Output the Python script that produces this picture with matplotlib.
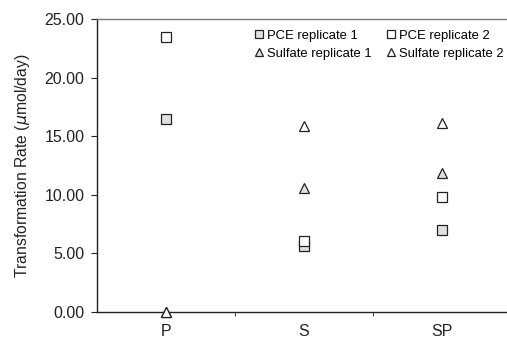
import matplotlib.pyplot as plt

plt.rcParams['font.family'] = ['Liberation Sans', 'DejaVu Sans']

# data
categories = ['P', 'S', 'SP']
pce_rep1 = [16.5, 5.6, 7.0]
pce_rep2 = [23.5, 6.1, 9.8]
sulfate_rep1 = [0.0, 10.6, 11.9]
sulfate_rep2 = [0.0, 15.9, 16.1]
y_ticks = [0, 5, 10, 15, 20, 25]

fig = plt.figure(figsize=(5.07, 3.41), dpi=100)
ax = fig.add_axes([97 / 507, 29 / 341, 414 / 507, 293 / 341])

x = range(len(categories))
ms = 7
common = dict(linestyle='none', markeredgecolor='#222222', markeredgewidth=0.9,
              markersize=ms, clip_on=False, zorder=3)
ax.plot(x, pce_rep1, marker='s', markerfacecolor='#e0e0e0', label='PCE replicate 1', **common)
ax.plot(x, sulfate_rep1, marker='^', markerfacecolor='#e0e0e0', label='Sulfate replicate 1', **common)
ax.plot(x, pce_rep2, marker='s', markerfacecolor='white', label='PCE replicate 2', **common)
ax.plot(x, sulfate_rep2, marker='^', markerfacecolor='white', label='Sulfate replicate 2', **common)

ax.set_xlim(-0.5, 2.5)
ax.set_ylim(0, 25)
ax.set_yticks(y_ticks)
ax.set_yticklabels([f'{v:.2f}' for v in y_ticks])
ax.set_xticks(list(x))
ax.set_xticklabels(categories)
ax.set_xticks([0.5, 1.5], minor=True)
ax.tick_params(axis='x', which='major', length=0, pad=9, labelsize=11.5, colors='#222222')
ax.tick_params(axis='x', which='minor', length=3, direction='out', color='#222222')
ax.tick_params(axis='y', length=4, direction='out', labelsize=11.5, colors='#222222', pad=5)

ax.spines['right'].set_visible(False)
ax.spines['top'].set_color('#777777')
ax.spines['top'].set_linewidth(1.0)
for s in ['left', 'bottom']:
    ax.spines[s].set_color('#222222')
    ax.spines[s].set_linewidth(1.0)

ax.set_ylabel('Transformation Rate ($\\mu$mol/day)', fontsize=11.3, color='#222222', labelpad=9)

ax.legend(ncol=2, frameon=False, loc='upper right', bbox_to_anchor=(413 / 414 + 0.003, 0.99),
          fontsize=9.4, markerscale=0.85, handlelength=0.6, handletextpad=0.3,
          columnspacing=1.2, labelspacing=0.45, borderaxespad=0.2)

fig.savefig('out.png', dpi=100)
